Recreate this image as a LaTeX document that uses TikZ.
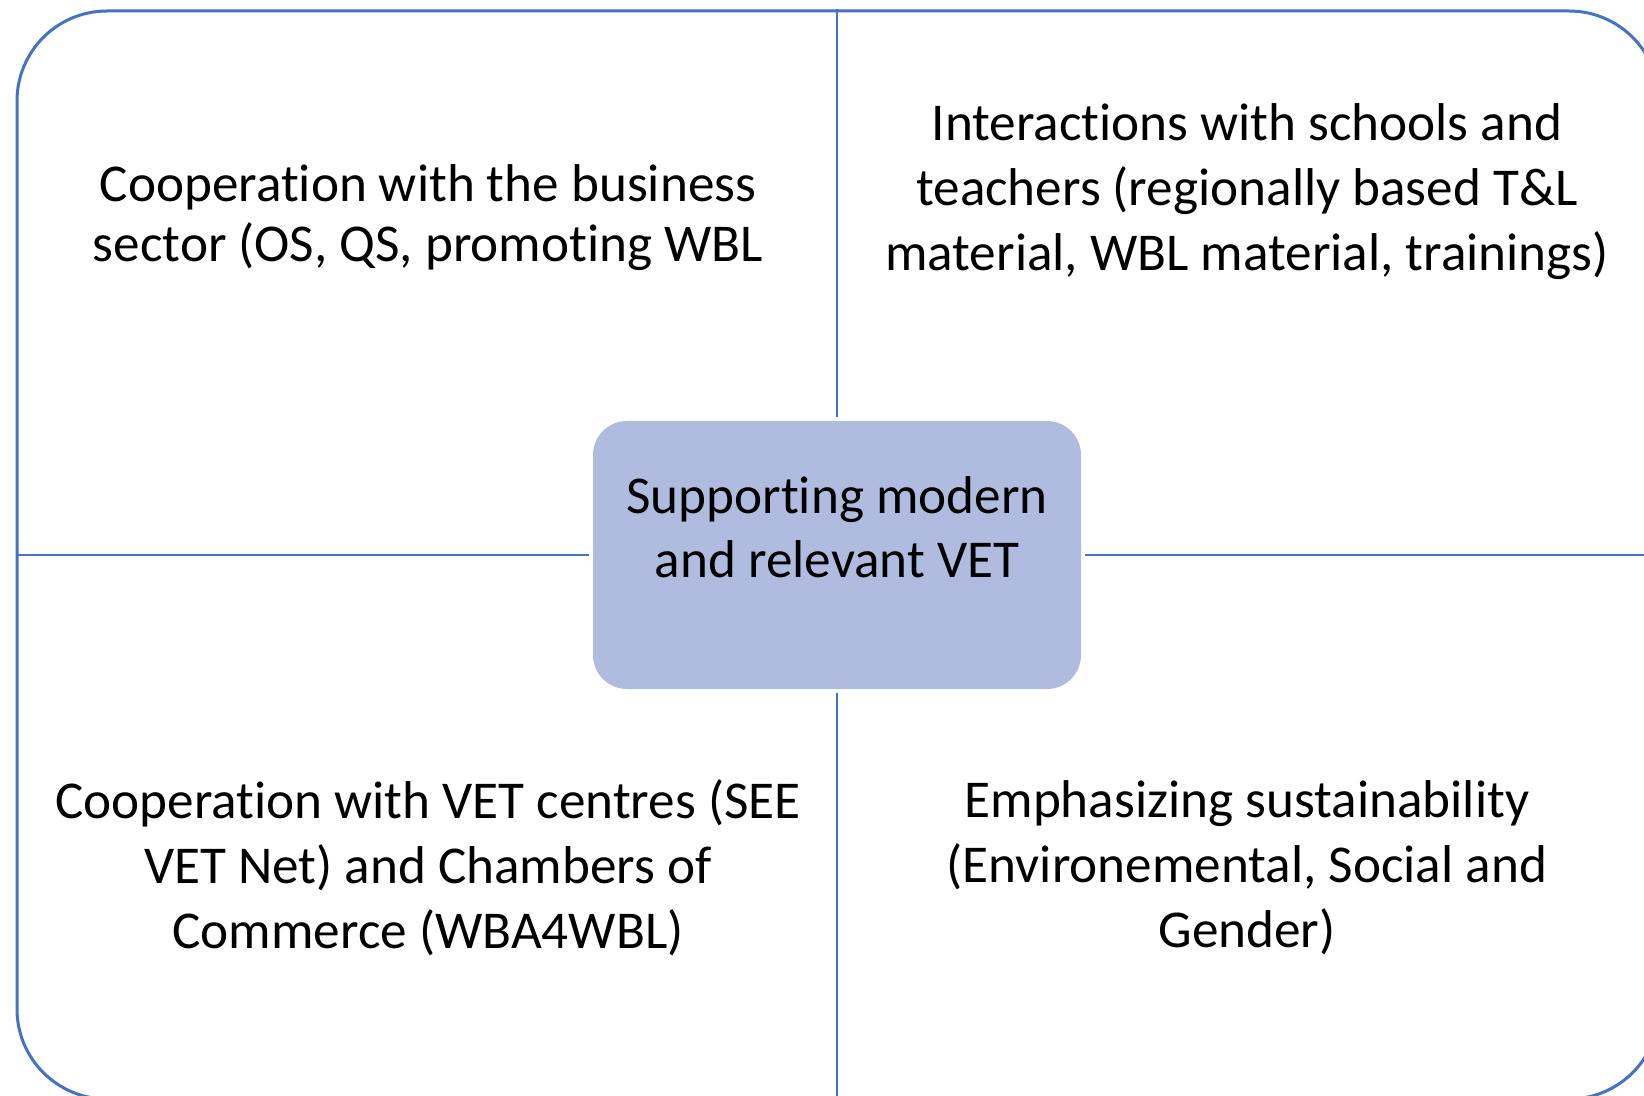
\documentclass[tikz,border=0pt]{standalone}
\usepackage{fontspec}
\setmainfont{Carlito}[Ligatures=NoCommon]
\usepackage{tikz}
\usetikzlibrary{positioning}

\definecolor{lineblue}{RGB}{68,114,196}
\definecolor{boxblue}{RGB}{176,188,223}

\begin{document}
\begin{tikzpicture}[
    x=0.5pt, y=-0.5pt,
    frame/.style={draw=lineblue, line width=1.5pt, rounded corners=45pt, minimum width=821pt, minimum height=544pt, inner sep=0pt},
    hub/.style={fill=boxblue, rounded corners=17pt, minimum width=244pt, minimum height=134pt, inner sep=0pt, outer sep=2pt},
    divider/.style={draw=lineblue, line width=1pt},
    quad/.style={align=center, font=\fontsize{26.6}{32.5}\selectfont},
]
\useasboundingbox (0,0) rectangle (1644,1096);
\clip (0,0) rectangle (1644,1096);

% Draw the outer frame and the centre box
\node[frame] (F) at (838,555) {};
\node[hub] (H) at (837,555) {};
\node[quad, font=\fontsize{26.6}{32}\selectfont] (HT) at (837,527) {Supporting modern\\and relevant VET};

% Draw the dividers
\draw[divider] (H.north) -- (H.north |- F.north);
\draw[divider] (H.south) -- (H.south |- F.south);
\draw[divider] (H.west) -- (H.west -| F.west);
\draw[divider] (H.east) -- (H.east -| F.east);

% Draw the four quadrants
\node[quad, font=\fontsize{26.6}{30}\selectfont] (TL) at (428,218) {Cooperation with the business\\sector (OS, QS, promoting WBL};
\node[quad] (TR) at (1247,192) {Interactions with schools and\\teachers (regionally based T\&L\\material, WBL material, trainings)};
\node[quad] (BL) at (428,868) {Cooperation with VET centres (SEE\\VET Net) and Chambers of\\Commerce (WBA4WBL)};
\node[quad] (BR) at (1247,868) {Emphasizing sustainability\\(Environemental, Social and\\Gender)};

\end{tikzpicture}
\end{document}
